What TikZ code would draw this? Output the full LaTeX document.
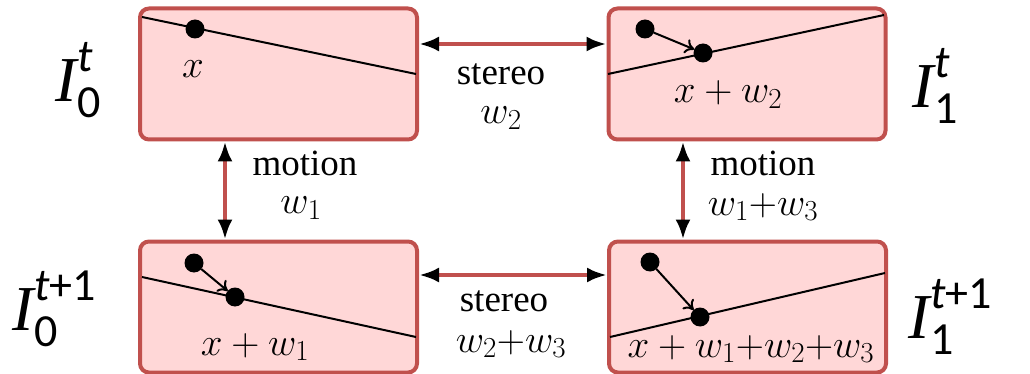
\RequirePackage{fix-cm}
\documentclass[tikz,border=0pt]{standalone}
\usepackage[no-math]{fontspec}
\setmainfont{Liberation Serif}
\newfontfamily\scrfont{Carlito}
\usetikzlibrary{arrows.meta}
\definecolor{bord}{RGB}{192,80,77}
\definecolor{boxfill}{RGB}{255,215,215}
\DeclareMathSizes{39}{39}{29}{22}
\newcommand\Ilabel[2]{{\fontsize{64}{64}\selectfont\itshape I}\kern1pt{\scrfont\fontsize{46}{46}\selectfont\rlap{\raisebox{-16pt}{#1}}\raisebox{30pt}{#2}}}
\begin{document}
\begin{tikzpicture}[x=1pt,y=-1pt,
  imgbox/.style={draw=bord, line width=4pt, fill=boxfill, rounded corners=9pt, minimum width=277pt, minimum height=131pt, inner sep=0},
  link/.style={draw=bord, line width=4pt, {Latex[length=20pt,width=15pt,color=black]}-{Latex[length=20pt,width=15pt,color=black]}},
  epi/.style={line width=2pt, black},
  pt/.style={circle, fill=black, minimum size=19pt, inner sep=0, outer sep=0},
  mv/.style={line width=2pt, -{To[length=9pt,width=15pt]}},
  txt/.style={font=\fontsize{37}{40}\selectfont, inner sep=0, anchor=base},
  mth/.style={font=\fontsize{39}{40}\selectfont, inner sep=0, anchor=base},
  big/.style={inner sep=0, anchor=base west}]
\useasboundingbox (0,0) rectangle (1030,374);

% boxes
\node[imgbox] (b00) at (278.5,74) {};
\node[imgbox] (b01) at (747,74) {};
\node[imgbox] (b10) at (278.5,307) {};
\node[imgbox] (b11) at (747.5,307) {};

% connectors
\draw[link] ([yshift=30pt]b00.east) -- ([yshift=30pt]b01.west);
\draw[link] ([yshift=32pt]b10.east) -- ([yshift=32pt]b11.west);
\draw[link] ([xshift=-53.5pt]b00.south) -- ([xshift=-53.5pt]b10.north);
\draw[link] ([xshift=-64pt]b01.south) -- ([xshift=-64.5pt]b11.north);

% connector labels
\node[txt] (st1) at (501,85) {stereo};
\node[mth] (st1w) at (501,124) {$w_2$};
\node[txt] (st2) at (504,311) {stereo};
\node[mth] (st2w) at (511,352) {$w_2{+}w_3$};
\node[txt] (mo1) at (305,176) {motion};
\node[mth] (mo1w) at (301,214) {$w_1$};
\node[txt] (mo2) at (763,176) {motion};
\node[mth] (mo2w) at (763,215) {$w_1{+}w_3$};

% top-left content
\draw[epi] (142,17) -- (416,74);
\node[pt] (p00) at (195,29) {};
\node[mth] (l00) at (193,78) {$x$};

% top-right content
\draw[epi] (608,74) -- (884,15);
\node[pt] (p01a) at (645,29) {};
\node[pt] (p01b) at (703,53) {};
\draw[mv] (p01a) -- (p01b);
\node[mth] (l01) at (728,103) {$x+w_2$};

% bottom-left content
\draw[epi] (142,277) -- (416,337);
\node[pt] (p10a) at (194,263) {};
\node[pt] (p10b) at (235,297) {};
\draw[mv] (p10a) -- (p10b);
\node[mth] (l10) at (255,355) {$x+w_1$};

% bottom-right content
\draw[epi] (610,337) -- (885,273);
\node[pt] (p11a) at (650,262) {};
\node[pt] (p11b) at (700,317) {};
\draw[mv] (p11a) -- (p11b);
\node[mth] (l11) at (751,357) {$x+w_1{+}w_2{+}w_3$};

% image labels
\node[big] (I00) at (55,102) {\Ilabel{0}{\itshape t}};
\node[big] (I01) at (912,108) {\Ilabel{1}{\itshape t}};
\node[big] (I10) at (12,330) {\Ilabel{0}{{\itshape t}+1}};
\node[big] (I11) at (908,338) {\Ilabel{1}{{\itshape t}+1}};
\end{tikzpicture}
\end{document}
